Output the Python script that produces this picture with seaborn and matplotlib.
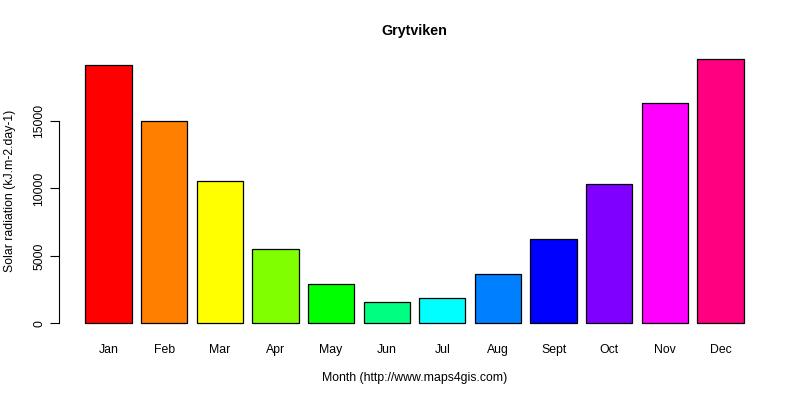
import matplotlib
matplotlib.use("Agg")
import matplotlib.pyplot as plt
import seaborn as sns
import pandas as pd

months = ["Jan", "Feb", "Mar", "Apr", "May", "Jun", "Jul", "Aug", "Sept", "Oct", "Nov", "Dec"]
radiation = [19150, 15010, 10540, 5510, 2890, 1560, 1855, 3635, 6230, 10310, 16320, 19580]
colors = ["#FF0000", "#FF8000", "#FFFF00", "#80FF00", "#00FF00", "#00FF80",
          "#00FFFF", "#0080FF", "#0000FF", "#8000FF", "#FF00FF", "#FF0080"]
y_ticks = [0, 5000, 10000, 15000]

sns.set_style("white")
plt.rcParams['font.family'] = ['Liberation Sans', 'DejaVu Sans']
plt.rcParams['text.color'] = 'black'
plt.rcParams['axes.labelcolor'] = 'black'
plt.rcParams['xtick.color'] = 'black'
plt.rcParams['ytick.color'] = 'black'

df = pd.DataFrame({"month": months, "rad": radiation})

fig = plt.figure(figsize=(8, 4), dpi=100)
ax_l, ax_b, ax_w, ax_h = 59, 333.9, 770 - 59, 333.9 - 48.7
ax = fig.add_axes([ax_l / 800, 1 - ax_b / 400, ax_w / 800, ax_h / 400])

sns.barplot(data=df, x="month", y="rad", hue="month", palette=colors, order=months,
            hue_order=months, dodge=False, legend=False, width=1 / 1.2,
            edgecolor="black", linewidth=0.9, saturation=1, ax=ax)

ymax = max(radiation)
ax.set_ylim(-0.04 * ymax, 1.04 * ymax)
ax.set_xlim(-0.89, 11.89)
ax.set_yticks(y_ticks)
ax.set_yticklabels([str(v) for v in y_ticks], rotation=90, va="center", fontsize=8.8)
ax.tick_params(axis="y", length=6.5, width=0.8, color="black", labelcolor="black", pad=3.5, left=True)
ax.tick_params(axis="x", length=0, pad=7, labelsize=8.8, labelcolor="black")
for s in ["top", "right", "bottom"]:
    ax.spines[s].set_visible(False)
ax.spines["left"].set_bounds(0, 15000)
ax.spines["left"].set_color("black")
ax.spines["left"].set_linewidth(0.8)

ax.set_xlabel("Month (http://www.maps4gis.com)", fontsize=8.8, color="black")
ax.set_ylabel("Solar radiation (kJ.m-2.day-1)", fontsize=8.8, color="black")
ax.xaxis.set_label_coords(0.5, (ax_b - 378) / ax_h)
ax.xaxis.label.set_va("center")
ax.yaxis.set_label_coords((10 - ax_l) / ax_w, 0.5)
ax.yaxis.label.set_va("center")
fig.text(414.5 / 800, 1 - 31 / 400, "Grytviken", ha="center", va="center",
         fontsize=10.3, fontweight="bold", color="black")

fig.savefig("out.png", dpi=100)
